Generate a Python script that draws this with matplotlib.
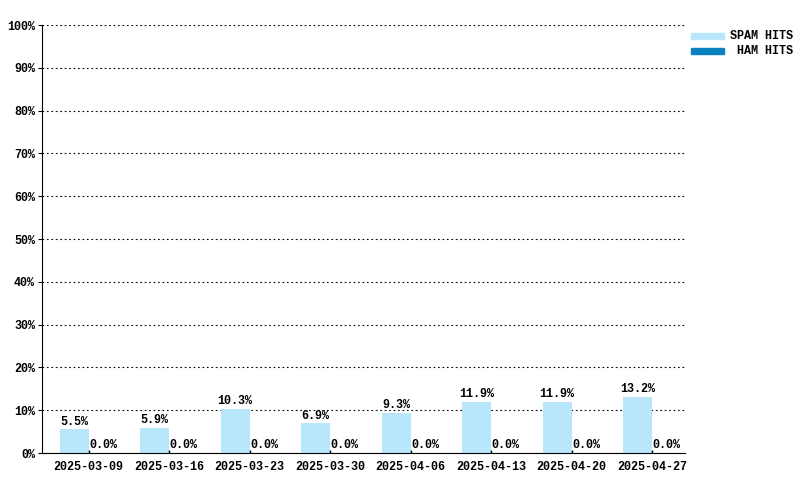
import matplotlib
matplotlib.use("Agg")
import numpy as np
from matplotlib import pyplot as plt
from matplotlib.patches import Rectangle

weeks = ["2025-03-09", "2025-03-16", "2025-03-23", "2025-03-30",
         "2025-04-06", "2025-04-13", "2025-04-20", "2025-04-27"]
spam = [5.5, 5.9, 10.3, 6.9, 9.3, 11.9, 11.9, 13.2]
ham = [0.0, 0.0, 0.0, 0.0, 0.0, 0.0, 0.0, 0.0]
spam_color = '#b8e6fb'
ham_color = '#0a80bf'

plt.rcParams['font.family'] = ['Liberation Mono', 'DejaVu Sans Mono']
plt.rcParams['font.weight'] = 'bold'
plt.rcParams['font.size'] = 8.5

fig = plt.figure(figsize=(8, 4.8), dpi=100)
ax = fig.add_axes([42/800, 27/480, 643/800, 428/480])

x = np.arange(len(weeks))
w = 0.36
ax.bar(x - w, spam, w, align='edge', color=spam_color)
ax.bar(x, ham, w, align='edge', color=ham_color)
ax.vlines(x, 0, 0.6, color='black', linewidth=1)

for i in range(len(weeks)):
    ax.text(x[i] - w/2, spam[i] + 0.4, "%.1f%%" % spam[i], ha='center', va='bottom')
    ax.text(x[i] + w/2, ham[i] + 0.4, "%.1f%%" % ham[i], ha='center', va='bottom')

ax.set_xlim(-0.58, 7.41)
ax.set_ylim(0, 100)
ax.set_yticks(range(0, 101, 10))
ax.set_yticklabels(["%d%%" % v for v in range(0, 101, 10)])
ax.set_xticks(x)
ax.set_xticklabels(weeks)
ax.tick_params(axis='x', length=0, pad=6)
ax.tick_params(axis='y', length=3, pad=2)
ax.yaxis.grid(True, linestyle=(0, (1.5, 2.5)), color='black', linewidth=0.8)
ax.set_axisbelow(True)
for s in ['top', 'right']:
    ax.spines[s].set_visible(False)

# legend drawn by hand, text right aligned
for k, (lab, col) in enumerate([("SPAM HITS", spam_color), ("HAM HITS", ham_color)]):
    yc = 1 - (36 + 15 * k) / 480
    fig.patches.append(Rectangle((691/800, yc - 3/480), 33/800, 6/480,
                                 transform=fig.transFigure, color=col))
    fig.text(793/800, yc, lab, ha='right', va='center')

fig.savefig("out.png", dpi=100)
